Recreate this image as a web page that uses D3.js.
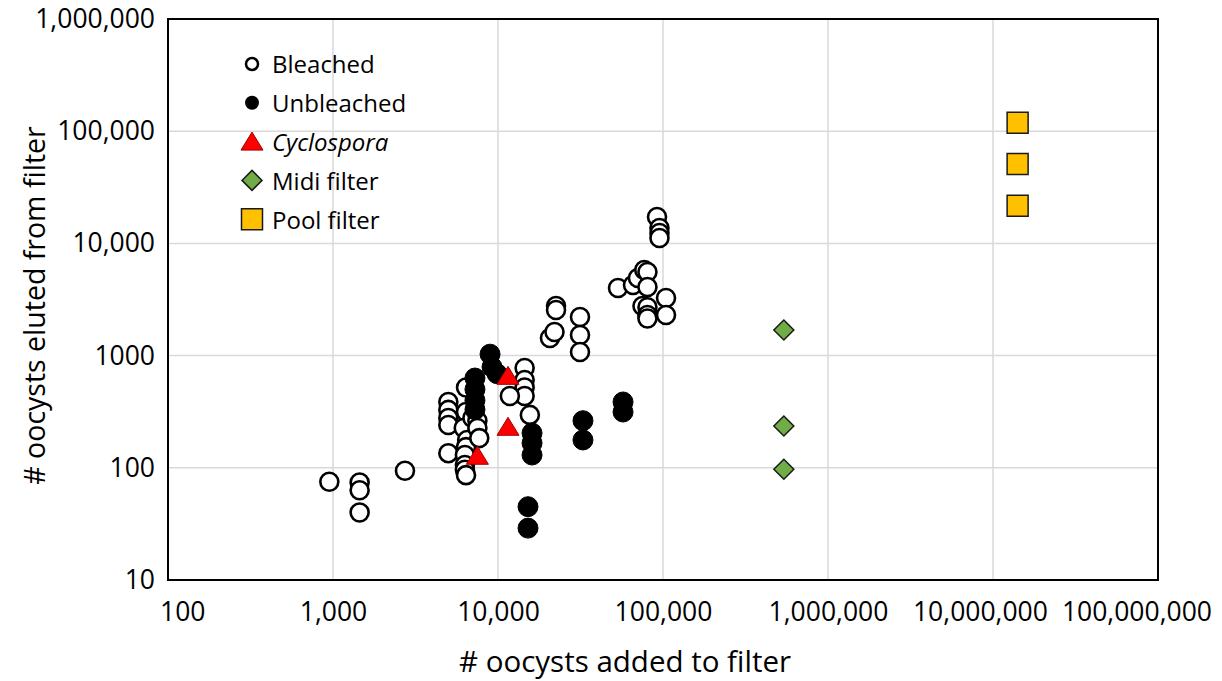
<!DOCTYPE html>
<html>
<head>
<meta charset="utf-8">
<script src="https://cdn.jsdelivr.net/npm/d3@7"></script>
<style>
  html, body { margin: 0; padding: 0; background: #fff; }
  svg { display: block; font-family: "Open Sans", "Noto Sans", sans-serif; }
</style>
</head>
<body>
<svg id="chart" width="1222" height="681"></svg>
<script>
// Oocyst recovery: number added to a filter vs number eluted from it
const bleached = [
  [950, 75], [1450, 74], [1450, 63], [1450, 40], [2730, 94],
  [5000, 386], [5000, 328], [5000, 278], [5000, 241], [5000, 135],
  [6400, 520], [6400, 314], [6200, 226], [6500, 177], [6400, 153],
  [6300, 130], [6300, 106], [6300, 96], [6400, 86],
  [7000, 278], [7500, 263], [7500, 226], [7700, 184],
  [14500, 775], [14500, 606], [14500, 520], [14500, 436], [11800, 436], [15600, 296],
  [20650, 1436], [22480, 2770], [22480, 2550], [22000, 1622],
  [31400, 2208], [31400, 1528], [31400, 1077],
  [53370, 4000], [65800, 4260], [70500, 4920], [77000, 5795], [80500, 5560],
  [80500, 4085], [75100, 2770], [80500, 2700], [80500, 2300], [80500, 2140],
  [104300, 3260], [104300, 2300],
  [92000, 17180], [95200, 13710], [95200, 12380], [95200, 11170]
];
const unbleached = [
  [8950, 1030], [9200, 791], [9860, 690],
  [7250, 631], [7250, 500], [7250, 400], [7250, 330],
  [16080, 204], [16080, 166], [16080, 130],
  [15200, 45], [15200, 29],
  [32730, 263], [32730, 177],
  [57250, 386], [57250, 314]
];
const cyclospora = [[11500, 660], [11500, 232], [7500, 128]];
const midiFilter = [[540000, 1690], [540000, 236], [540000, 97]];
const poolFilter = [[14100000, 119000], [14100000, 51000], [14100000, 21700]];

const xTicks = [100, 1000, 10000, 100000, 1000000, 10000000, 100000000];
const xTickLabels = ["100", "1,000", "10,000", "100,000", "1,000,000", "10,000,000", "100,000,000"];
const yTicks = [10, 100, 1000, 10000, 100000, 1000000];
const yTickLabels = ["10", "100", "1000", "10,000", "100,000", "1,000,000"];

const legendItems = ["Bleached", "Unbleached", "Cyclospora", "Midi filter", "Pool filter"];

const svg = d3.select("#chart");
const plot = { left: 168, right: 1158, top: 19, bottom: 580 };

const x = d3.scaleLog().domain([100, 1e8]).range([plot.left, plot.right]);
const y = d3.scaleLog().domain([10, 1e6]).range([plot.bottom, plot.top]);

// gridlines
const grid = svg.append("g").attr("stroke", "#d9d9d9").attr("stroke-width", 1.5);
grid.selectAll(".gx").data(xTicks).join("line")
  .attr("x1", d => x(d)).attr("x2", d => x(d))
  .attr("y1", plot.top).attr("y2", plot.bottom);
grid.selectAll(".gy").data(yTicks).join("line")
  .attr("y1", d => y(d)).attr("y2", d => y(d))
  .attr("x1", plot.left).attr("x2", plot.right);

// axes (labels only, no tick marks)
const xAxis = svg.append("g")
  .attr("transform", `translate(0,${plot.bottom + 19})`)
  .call(d3.axisBottom(x).tickValues(xTicks).tickSize(0)
    .tickFormat((d, i) => xTickLabels[i]));
xAxis.select(".domain").remove();
xAxis.selectAll("text").attr("font-size", 26.5).attr("fill", "#000")
  .attr("font-family", "Open Sans").attr("dy", "0.71em");

// keep x labels inside the figure and apart from each other
(function spreadLabels() {
  const nodes = xAxis.selectAll(".tick text").nodes();
  const boxes = nodes.map(n => {
    const tick = n.parentNode;
    const tx = +tick.getAttribute("transform").match(/translate\(([-\d.]+)/)[1];
    const w = n.getComputedTextLength();
    return { n, tx, w, shift: 0 };
  });
  const minLeft = 160, maxRight = 1212, gap = 14;
  boxes.forEach(b => { if (b.tx - b.w / 2 < minLeft) b.shift = minLeft - (b.tx - b.w / 2); });
  const last = boxes[boxes.length - 1];
  if (last.tx + last.w / 2 > maxRight) last.shift = maxRight - (last.tx + last.w / 2);
  for (let i = boxes.length - 2; i >= 0; i--) {
    const b = boxes[i], nb = boxes[i + 1];
    const right = b.tx + b.shift + b.w / 2;
    const limit = nb.tx + nb.shift - nb.w / 2 - gap;
    if (right > limit) b.shift += limit - right;
  }
  boxes.forEach(b => d3.select(b.n).attr("x", b.shift));
})();

const yAxis = svg.append("g")
  .attr("transform", `translate(${plot.left - 10},0)`)
  .call(d3.axisLeft(y).tickValues(yTicks).tickSize(0)
    .tickFormat((d, i) => yTickLabels[i]));
yAxis.select(".domain").remove();
yAxis.selectAll("text").attr("font-size", 26.5).attr("fill", "#000")
  .attr("font-family", "Open Sans");

// plot border
svg.append("rect")
  .attr("x", plot.left).attr("y", plot.top)
  .attr("width", plot.right - plot.left).attr("height", plot.bottom - plot.top)
  .attr("fill", "none").attr("stroke", "#000").attr("stroke-width", 2);

// axis titles
svg.append("text")
  .attr("x", 625).attr("y", 672)
  .attr("text-anchor", "middle").attr("font-size", 29.5)
  .text("# oocysts added to filter");
svg.append("text")
  .attr("transform", `translate(45,${(plot.top + plot.bottom) / 2 + 6}) rotate(-90)`)
  .attr("text-anchor", "middle").attr("font-size", 28.5)
  .text("# oocysts eluted from filter");

// markers
const marks = svg.append("g");
marks.selectAll(".bleached").data(bleached).join("circle")
  .attr("cx", d => x(d[0])).attr("cy", d => y(d[1])).attr("r", 9)
  .attr("fill", "#fff").attr("stroke", "#000").attr("stroke-width", 2.6);
marks.selectAll(".unbleached").data(unbleached).join("circle")
  .attr("cx", d => x(d[0])).attr("cy", d => y(d[1])).attr("r", 10)
  .attr("fill", "#000").attr("stroke", "#000").attr("stroke-width", 1);

const triPath = "M0,-9.5L11,8.5L-11,8.5Z";
const diaPath = "M0,-10L10,0L0,10L-10,0Z";
const sqPath = "M-10.5,-10.5H10.5V10.5H-10.5Z";

marks.selectAll(".cyc").data(cyclospora).join("path")
  .attr("d", triPath)
  .attr("transform", d => `translate(${x(d[0])},${y(d[1])})`)
  .attr("fill", "#ff0000").attr("stroke", "#a00000").attr("stroke-width", 1);
marks.selectAll(".midi").data(midiFilter).join("path")
  .attr("d", diaPath)
  .attr("transform", d => `translate(${x(d[0])},${y(d[1])})`)
  .attr("fill", "#70ad47").attr("stroke", "#1a1a1a").attr("stroke-width", 1.5);
marks.selectAll(".pool").data(poolFilter).join("path")
  .attr("d", sqPath)
  .attr("transform", d => `translate(${x(d[0])},${y(d[1])})`)
  .attr("fill", "#ffc000").attr("stroke", "#1a1a1a").attr("stroke-width", 1.5);

// legend
const legend = svg.append("g").attr("transform", "translate(252,64)");
const rowH = 38.8;
legendItems.forEach((name, i) => {
  const row = legend.append("g").attr("transform", `translate(0,${i * rowH})`);
  if (i === 0) row.append("circle").attr("r", 6).attr("fill", "#fff").attr("stroke", "#000").attr("stroke-width", 2.5);
  if (i === 1) row.append("circle").attr("r", 7).attr("fill", "#000");
  if (i === 2) row.append("path").attr("d", triPath).attr("fill", "#ff0000").attr("stroke", "#a00000").attr("stroke-width", 1);
  if (i === 3) row.append("path").attr("d", diaPath).attr("fill", "#70ad47").attr("stroke", "#1a1a1a").attr("stroke-width", 1.5);
  if (i === 4) row.append("path").attr("d", sqPath).attr("fill", "#ffc000").attr("stroke", "#1a1a1a").attr("stroke-width", 1.5);
  row.append("text")
    .attr("x", 20).attr("y", 1).attr("dy", "0.35em")
    .attr("font-size", 24)
    .attr("font-style", i === 2 ? "italic" : "normal")
    .text(name);
});
</script>
</body>
</html>
